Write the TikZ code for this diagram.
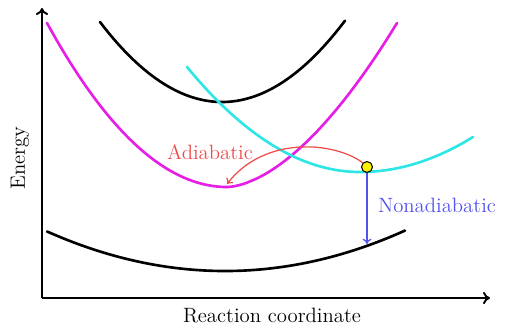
\documentclass[tikz,border=0pt]{standalone}
\usepackage{tikz}
\usetikzlibrary{positioning,arrows.meta}
\definecolor{cMagenta}{HTML}{E61EE6}
\definecolor{cCyan}{HTML}{2EE6E6}
\definecolor{cAdiab}{HTML}{EE4B4B}
\definecolor{cNonad}{HTML}{5252EE}

\begin{document}
\begin{tikzpicture}[x=0.02cm,y=-0.02cm,
    surf/.style={line width=1.5pt,line cap=round,line join=round,samples=60,smooth},
    axis/.style={line width=1.1pt,-{To[length=4pt,width=7pt]}},
    hop/.style={line width=0.7pt,-{To[length=3pt,width=5pt]}},
    lbl/.style={font=\fontsize{11.8}{14}\selectfont}]
  \useasboundingbox (0,0) rectangle (506,329);
  % axes
  \coordinate (origin) at (42,298);
  \coordinate (ytop) at (42,8);
  \coordinate (xend) at (490,298);
  \draw[axis] (origin) -- (ytop);
  \draw[axis] (origin) -- (xend);
  \node[lbl,rotate=90] (energy) at (20,158) {Energy};
  \node[lbl] (rcoord) at (272,316) {Reaction coordinate};
  % potential energy surfaces
  \draw[surf] plot[domain=100:345] (\x,{102-80*((\x-222)/122)^2});
  \draw[surf,cMagenta] plot[domain=47:227] (\x,{187-164*((\x-227)/180)^2})
    -- plot[domain=227:397] (\x,{187-164*((\x-227)/170)^1.7});
  \draw[surf,cCyan] plot[domain=187:360] (\x,{172-105*((\x-360)/173)^2})
    -- plot[domain=360:473] (\x,{172-35*((\x-360)/113)^2});
  \draw[surf] plot[domain=47:405] (\x,{271-40*((\x-225)/179)^2});
  % crossing point and transitions
  \node[circle,fill=yellow,draw=black,line width=0.6pt,inner sep=2.2pt] (hopdot) at (367,167) {};
  \coordinate (adiabmin) at (227,184);
  \coordinate (lowsurf) at (367,244);
  \draw[hop,cAdiab] (hopdot.north west) .. controls (335,142) and (265,135) .. (adiabmin);
  \draw[hop,cNonad] (hopdot.south) -- (lowsurf);
  \node[lbl,text=cAdiab] (adiab) at (210,152) {Adiabatic};
  \node[lbl,text=cNonad] (nonad) at (437,205) {Nonadiabatic};
\end{tikzpicture}
\end{document}
